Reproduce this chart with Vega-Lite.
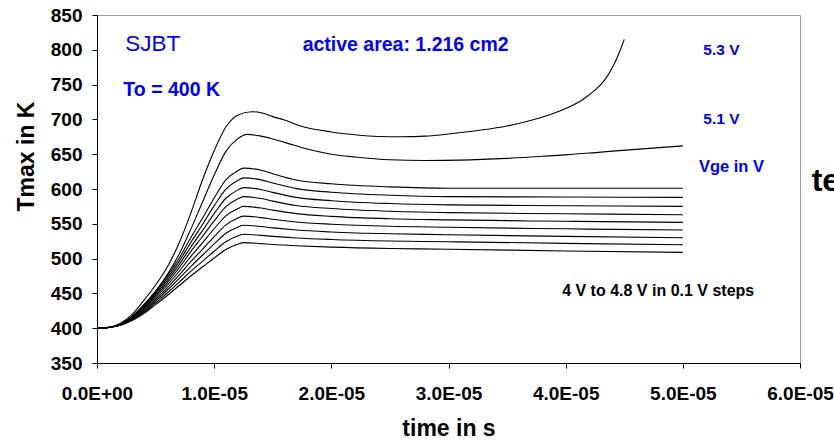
{
  "$schema": "https://vega.github.io/schema/vega-lite/v6.json",
  "width": 703,
  "height": 348,
  "autosize": {"type": "none"},
  "padding": {"left": 97, "top": 15, "right": 34, "bottom": 78},
  "background": "white",
  "config": {
    "view": {"stroke": "#9a9a9a", "strokeWidth": 1},
    "font": "Liberation Sans",
    "axis": {
      "grid": false,
      "domainColor": "black",
      "tickColor": "black",
      "tickSize": 5,
      "labelFont": "Liberation Sans",
      "labelFontWeight": "bold",
      "labelFontSize": 19,
      "labelColor": "black",
      "titleFont": "Liberation Sans",
      "titleFontWeight": "bold",
      "titleFontSize": 23,
      "titleColor": "black"
    }
  },
  "datasets": {
    "curves": [
      {"v":"4.0","t":0,"T":400},{"v":"4.0","t":1e-6,"T":401.0},{"v":"4.0","t":2e-6,"T":404.1},{"v":"4.0","t":3e-6,"T":410.9},{"v":"4.0","t":4e-6,"T":420.9},{"v":"4.0","t":5e-6,"T":433.9},{"v":"4.0","t":6e-6,"T":447.0},{"v":"4.0","t":7e-6,"T":461.0},{"v":"4.0","t":8e-6,"T":475.0},{"v":"4.0","t":9e-6,"T":487.9},{"v":"4.0","t":1e-5,"T":500.9},{"v":"4.0","t":1.1e-5,"T":513.2},{"v":"4.0","t":1.2e-5,"T":520.5},{"v":"4.0","t":1.25e-5,"T":523},{"v":"4.0","t":1.4e-5,"T":521.5},{"v":"4.0","t":1.5e-5,"T":520.3},{"v":"4.0","t":1.7e-5,"T":518.5},{"v":"4.0","t":2e-5,"T":516.5},{"v":"4.0","t":2.5e-5,"T":514.5},{"v":"4.0","t":3e-5,"T":513.5},{"v":"4.0","t":4e-5,"T":511},{"v":"4.0","t":5e-5,"T":509},
      {"v":"4.1","t":0,"T":400},{"v":"4.1","t":1e-6,"T":401.0},{"v":"4.1","t":2e-6,"T":404.3},{"v":"4.1","t":3e-6,"T":411.8},{"v":"4.1","t":4e-6,"T":422.5},{"v":"4.1","t":5e-6,"T":436.5},{"v":"4.1","t":6e-6,"T":450.6},{"v":"4.1","t":7e-6,"T":465.9},{"v":"4.1","t":8e-6,"T":481.6},{"v":"4.1","t":9e-6,"T":496.1},{"v":"4.1","t":1e-5,"T":510.6},{"v":"4.1","t":1.1e-5,"T":524.3},{"v":"4.1","t":1.2e-5,"T":532.4},{"v":"4.1","t":1.25e-5,"T":535},{"v":"4.1","t":1.4e-5,"T":533.4},{"v":"4.1","t":1.5e-5,"T":532.0},{"v":"4.1","t":1.7e-5,"T":529.7},{"v":"4.1","t":2e-5,"T":527.5},{"v":"4.1","t":2.5e-5,"T":525.3},{"v":"4.1","t":3e-5,"T":524.2},{"v":"4.1","t":4e-5,"T":521.9},{"v":"4.1","t":5e-5,"T":520},
      {"v":"4.2","t":0,"T":400},{"v":"4.2","t":1e-6,"T":401.1},{"v":"4.2","t":2e-6,"T":404.6},{"v":"4.2","t":3e-6,"T":412.6},{"v":"4.2","t":4e-6,"T":424.2},{"v":"4.2","t":5e-6,"T":439.1},{"v":"4.2","t":6e-6,"T":454.5},{"v":"4.2","t":7e-6,"T":471.2},{"v":"4.2","t":8e-6,"T":488.6},{"v":"4.2","t":9e-6,"T":504.8},{"v":"4.2","t":1e-5,"T":521.1},{"v":"4.2","t":1.1e-5,"T":536.4},{"v":"4.2","t":1.2e-5,"T":545.2},{"v":"4.2","t":1.25e-5,"T":548},{"v":"4.2","t":1.4e-5,"T":546.1},{"v":"4.2","t":1.5e-5,"T":544.1},{"v":"4.2","t":1.7e-5,"T":541.0},{"v":"4.2","t":2e-5,"T":538.2},{"v":"4.2","t":2.5e-5,"T":535.6},{"v":"4.2","t":3e-5,"T":534.3},{"v":"4.2","t":4e-5,"T":531.9},{"v":"4.2","t":5e-5,"T":530},
      {"v":"4.3","t":0,"T":400},{"v":"4.3","t":1e-6,"T":401.1},{"v":"4.3","t":2e-6,"T":404.9},{"v":"4.3","t":3e-6,"T":413.4},{"v":"4.3","t":4e-6,"T":425.7},{"v":"4.3","t":5e-6,"T":441.7},{"v":"4.3","t":6e-6,"T":458.1},{"v":"4.3","t":7e-6,"T":476.2},{"v":"4.3","t":8e-6,"T":495.5},{"v":"4.3","t":9e-6,"T":513.4},{"v":"4.3","t":1e-5,"T":531.6},{"v":"4.3","t":1.1e-5,"T":548.5},{"v":"4.3","t":1.2e-5,"T":558.0},{"v":"4.3","t":1.25e-5,"T":561},{"v":"4.3","t":1.4e-5,"T":558.9},{"v":"4.3","t":1.5e-5,"T":556.5},{"v":"4.3","t":1.7e-5,"T":552.6},{"v":"4.3","t":2e-5,"T":549.4},{"v":"4.3","t":2.5e-5,"T":546.4},{"v":"4.3","t":3e-5,"T":545.0},{"v":"4.3","t":4e-5,"T":542.8},{"v":"4.3","t":5e-5,"T":541},
      {"v":"4.4","t":0,"T":400},{"v":"4.4","t":1e-6,"T":401.1},{"v":"4.4","t":2e-6,"T":405.2},{"v":"4.4","t":3e-6,"T":414.3},{"v":"4.4","t":4e-6,"T":427.4},{"v":"4.4","t":5e-6,"T":444.3},{"v":"4.4","t":6e-6,"T":462.0},{"v":"4.4","t":7e-6,"T":481.5},{"v":"4.4","t":8e-6,"T":502.8},{"v":"4.4","t":9e-6,"T":522.7},{"v":"4.4","t":1e-5,"T":542.9},{"v":"4.4","t":1.1e-5,"T":561.5},{"v":"4.4","t":1.2e-5,"T":571.8},{"v":"4.4","t":1.25e-5,"T":575},{"v":"4.4","t":1.4e-5,"T":572.6},{"v":"4.4","t":1.5e-5,"T":569.6},{"v":"4.4","t":1.7e-5,"T":564.6},{"v":"4.4","t":2e-5,"T":560.7},{"v":"4.4","t":2.5e-5,"T":557.3},{"v":"4.4","t":3e-5,"T":555.7},{"v":"4.4","t":4e-5,"T":553.6},{"v":"4.4","t":5e-5,"T":552},
      {"v":"4.5","t":0,"T":400},{"v":"4.5","t":1e-6,"T":401.2},{"v":"4.5","t":2e-6,"T":405.4},{"v":"4.5","t":3e-6,"T":415.0},{"v":"4.5","t":4e-6,"T":428.9},{"v":"4.5","t":5e-6,"T":446.7},{"v":"4.5","t":6e-6,"T":465.6},{"v":"4.5","t":7e-6,"T":486.5},{"v":"4.5","t":8e-6,"T":510.0},{"v":"4.5","t":9e-6,"T":531.8},{"v":"4.5","t":1e-5,"T":554.1},{"v":"4.5","t":1.1e-5,"T":574.6},{"v":"4.5","t":1.2e-5,"T":585.6},{"v":"4.5","t":1.25e-5,"T":589},{"v":"4.5","t":1.4e-5,"T":586.3},{"v":"4.5","t":1.5e-5,"T":582.6},{"v":"4.5","t":1.7e-5,"T":576.3},{"v":"4.5","t":2e-5,"T":571.9},{"v":"4.5","t":2.5e-5,"T":568.0},{"v":"4.5","t":3e-5,"T":566.1},{"v":"4.5","t":4e-5,"T":564.4},{"v":"4.5","t":5e-5,"T":563},
      {"v":"4.6","t":0,"T":400},{"v":"4.6","t":1e-6,"T":401.2},{"v":"4.6","t":2e-6,"T":405.6},{"v":"4.6","t":3e-6,"T":415.7},{"v":"4.6","t":4e-6,"T":430.3},{"v":"4.6","t":5e-6,"T":448.8},{"v":"4.6","t":6e-6,"T":468.7},{"v":"4.6","t":7e-6,"T":491.0},{"v":"4.6","t":8e-6,"T":516.4},{"v":"4.6","t":9e-6,"T":540.2},{"v":"4.6","t":1e-5,"T":564.6},{"v":"4.6","t":1.1e-5,"T":586.7},{"v":"4.6","t":1.2e-5,"T":598.4},{"v":"4.6","t":1.25e-5,"T":602},{"v":"4.6","t":1.4e-5,"T":599.2},{"v":"4.6","t":1.5e-5,"T":595.1},{"v":"4.6","t":1.7e-5,"T":588.0},{"v":"4.6","t":2e-5,"T":583.2},{"v":"4.6","t":2.5e-5,"T":579.1},{"v":"4.6","t":3e-5,"T":577.2},{"v":"4.6","t":4e-5,"T":576.0},{"v":"4.6","t":5e-5,"T":575},
      {"v":"4.7","t":0,"T":400},{"v":"4.7","t":1e-6,"T":401.2},{"v":"4.7","t":2e-6,"T":405.8},{"v":"4.7","t":3e-6,"T":416.4},{"v":"4.7","t":4e-6,"T":431.6},{"v":"4.7","t":5e-6,"T":450.9},{"v":"4.7","t":6e-6,"T":471.9},{"v":"4.7","t":7e-6,"T":495.6},{"v":"4.7","t":8e-6,"T":523.2},{"v":"4.7","t":9e-6,"T":549.1},{"v":"4.7","t":1e-5,"T":575.8},{"v":"4.7","t":1.1e-5,"T":599.9},{"v":"4.7","t":1.2e-5,"T":612.2},{"v":"4.7","t":1.25e-5,"T":616},{"v":"4.7","t":1.4e-5,"T":613.1},{"v":"4.7","t":1.5e-5,"T":608.6},{"v":"4.7","t":1.7e-5,"T":600.5},{"v":"4.7","t":2e-5,"T":595.4},{"v":"4.7","t":2.5e-5,"T":591.1},{"v":"4.7","t":3e-5,"T":589.1},{"v":"4.7","t":4e-5,"T":588.5},{"v":"4.7","t":5e-5,"T":588},
      {"v":"4.8","t":0,"T":400},{"v":"4.8","t":1e-6,"T":401.2},{"v":"4.8","t":2e-6,"T":406.0},{"v":"4.8","t":3e-6,"T":417.0},{"v":"4.8","t":4e-6,"T":432.9},{"v":"4.8","t":5e-6,"T":452.9},{"v":"4.8","t":6e-6,"T":475.0},{"v":"4.8","t":7e-6,"T":500.1},{"v":"4.8","t":8e-6,"T":530.0},{"v":"4.8","t":9e-6,"T":558.0},{"v":"4.8","t":1e-5,"T":587.0},{"v":"4.8","t":1.1e-5,"T":613.0},{"v":"4.8","t":1.2e-5,"T":626.1},{"v":"4.8","t":1.25e-5,"T":630},{"v":"4.8","t":1.4e-5,"T":627.0},{"v":"4.8","t":1.5e-5,"T":622.0},{"v":"4.8","t":1.7e-5,"T":613.0},{"v":"4.8","t":2e-5,"T":607.5},{"v":"4.8","t":2.5e-5,"T":603.0},{"v":"4.8","t":3e-5,"T":601.0},{"v":"4.8","t":4e-5,"T":601},{"v":"4.8","t":5e-5,"T":601},
      {"v":"5.1","t":0,"T":400},{"v":"5.1","t":1e-6,"T":401},{"v":"5.1","t":2e-6,"T":406},{"v":"5.1","t":3e-6,"T":417},{"v":"5.1","t":4e-6,"T":434},{"v":"5.1","t":5e-6,"T":453},{"v":"5.1","t":6e-6,"T":477},{"v":"5.1","t":7e-6,"T":506},{"v":"5.1","t":8e-6,"T":542},{"v":"5.1","t":9e-6,"T":581},{"v":"5.1","t":1e-5,"T":620},{"v":"5.1","t":1.1e-5,"T":654},{"v":"5.1","t":1.2e-5,"T":672},{"v":"5.1","t":1.28e-5,"T":678.5},{"v":"5.1","t":1.4e-5,"T":676},{"v":"5.1","t":1.6e-5,"T":667},{"v":"5.1","t":1.8e-5,"T":657},{"v":"5.1","t":2e-5,"T":650},{"v":"5.1","t":2.2e-5,"T":646},{"v":"5.1","t":2.5e-5,"T":642},{"v":"5.1","t":2.8e-5,"T":641},{"v":"5.1","t":3.1e-5,"T":641.5},{"v":"5.1","t":3.5e-5,"T":644},{"v":"5.1","t":3.8e-5,"T":647},{"v":"5.1","t":4e-5,"T":649},{"v":"5.1","t":4.3e-5,"T":653},{"v":"5.1","t":4.6e-5,"T":657},{"v":"5.1","t":5e-5,"T":662},
      {"v":"5.3","t":0,"T":400},{"v":"5.3","t":1e-6,"T":401},{"v":"5.3","t":2e-6,"T":407},{"v":"5.3","t":3e-6,"T":420},{"v":"5.3","t":4e-6,"T":440},{"v":"5.3","t":5e-6,"T":462},{"v":"5.3","t":6e-6,"T":488},{"v":"5.3","t":7e-6,"T":522},{"v":"5.3","t":8e-6,"T":565},{"v":"5.3","t":9e-6,"T":613},{"v":"5.3","t":1e-5,"T":655},{"v":"5.3","t":1.1e-5,"T":689},{"v":"5.3","t":1.2e-5,"T":706},{"v":"5.3","t":1.32e-5,"T":711},{"v":"5.3","t":1.4e-5,"T":709.5},{"v":"5.3","t":1.5e-5,"T":704},{"v":"5.3","t":1.6e-5,"T":699},{"v":"5.3","t":1.73e-5,"T":691},{"v":"5.3","t":2e-5,"T":682},{"v":"5.3","t":2.2e-5,"T":678},{"v":"5.3","t":2.4e-5,"T":675.5},{"v":"5.3","t":2.6e-5,"T":675},{"v":"5.3","t":2.8e-5,"T":676},{"v":"5.3","t":3e-5,"T":679},{"v":"5.3","t":3.25e-5,"T":684},{"v":"5.3","t":3.5e-5,"T":690.5},{"v":"5.3","t":3.7e-5,"T":698.5},{"v":"5.3","t":3.87e-5,"T":707},{"v":"5.3","t":4.02e-5,"T":717},{"v":"5.3","t":4.15e-5,"T":729},{"v":"5.3","t":4.25e-5,"T":742},{"v":"5.3","t":4.33e-5,"T":756},{"v":"5.3","t":4.4e-5,"T":775},{"v":"5.3","t":4.45e-5,"T":793},{"v":"5.3","t":4.5e-5,"T":815}
    ]
  },
  "encoding": {
    "x": {
      "field": "t", "type": "quantitative",
      "scale": {"domain": [0, 0.00006], "nice": false, "zero": false},
      "axis": {
        "title": "time in s",
        "values": [0, 0.00001, 0.00002, 0.00003, 0.00004, 0.00005, 0.00006],
        "labelExpr": "datum.value == 0 ? '0.0E+00' : format(datum.value * 100000, '.1f') + 'E-05'",
        "labelPadding": 16,
        "titlePadding": 14,
        "labelFlush": false
      }
    },
    "y": {
      "field": "T", "type": "quantitative",
      "scale": {"domain": [350, 850], "nice": false, "zero": false},
      "axis": {
        "title": "Tmax in K",
        "values": [350, 400, 450, 500, 550, 600, 650, 700, 750, 800, 850],
        "labelPadding": 10,
        "titleX": -59,
        "titleY": 141,
        "titleAngle": -90,
        "titleBaseline": "bottom",
        "titleAlign": "center",
        "labelFlush": false
      }
    }
  },
  "layer": [
    {
      "data": {"name": "curves"},
      "mark": {"type": "line", "color": "black", "strokeWidth": 1.1, "interpolate": "monotone"},
      "encoding": {"detail": {"field": "v", "type": "nominal"}}
    },
    {
      "data": {"values": [{"t": 0.00000242, "T": 808, "label": "SJBT"}]},
      "mark": {"type": "text", "align": "left", "baseline": "middle", "font": "Liberation Sans", "fontSize": 22.5, "color": "#0000ff"},
      "encoding": {"text": {"field": "label"}}
    },
    {
      "data": {"values": [{"t": 0.00000225, "T": 742, "label": "To = 400 K"}]},
      "mark": {"type": "text", "align": "left", "baseline": "middle", "font": "Liberation Sans", "fontSize": 19.5, "fontWeight": "bold", "color": "#0000ff"},
      "encoding": {"text": {"field": "label"}}
    },
    {
      "data": {"values": [{"t": 0.00001755, "T": 806.5, "label": "active area: 1.216 cm2"}]},
      "mark": {"type": "text", "align": "left", "baseline": "middle", "font": "Liberation Sans", "fontSize": 19.5, "fontWeight": "bold", "color": "#0000ff"},
      "encoding": {"text": {"field": "label"}}
    },
    {
      "data": {"values": [{"t": 0.00005175, "T": 799.7, "label": "5.3 V"}, {"t": 0.00005175, "T": 700, "label": "5.1 V"}]},
      "mark": {"type": "text", "align": "left", "baseline": "middle", "font": "Liberation Sans", "fontSize": 15.5, "fontWeight": "bold", "color": "#0000ff"},
      "encoding": {"text": {"field": "label"}}
    },
    {
      "data": {"values": [{"t": 0.00005137, "T": 631, "label": "Vge in V"}]},
      "mark": {"type": "text", "align": "left", "baseline": "middle", "font": "Liberation Sans", "fontSize": 16.5, "fontWeight": "bold", "color": "#0000ff"},
      "encoding": {"text": {"field": "label"}}
    },
    {
      "data": {"values": [{"t": 0.0000397, "T": 453, "label": "4 V to 4.8 V in 0.1 V steps"}]},
      "mark": {"type": "text", "align": "left", "baseline": "middle", "font": "Liberation Sans", "fontSize": 16, "fontWeight": "bold", "color": "black"},
      "encoding": {"text": {"field": "label"}}
    },
    {
      "data": {"values": [{"t": 0.0000610, "T": 596.7, "label": "temperature"}]},
      "mark": {"type": "text", "align": "left", "baseline": "alphabetic", "font": "Liberation Sans", "fontSize": 32, "fontWeight": "bold", "color": "black"},
      "encoding": {"text": {"field": "label"}}
    }
  ]
}
